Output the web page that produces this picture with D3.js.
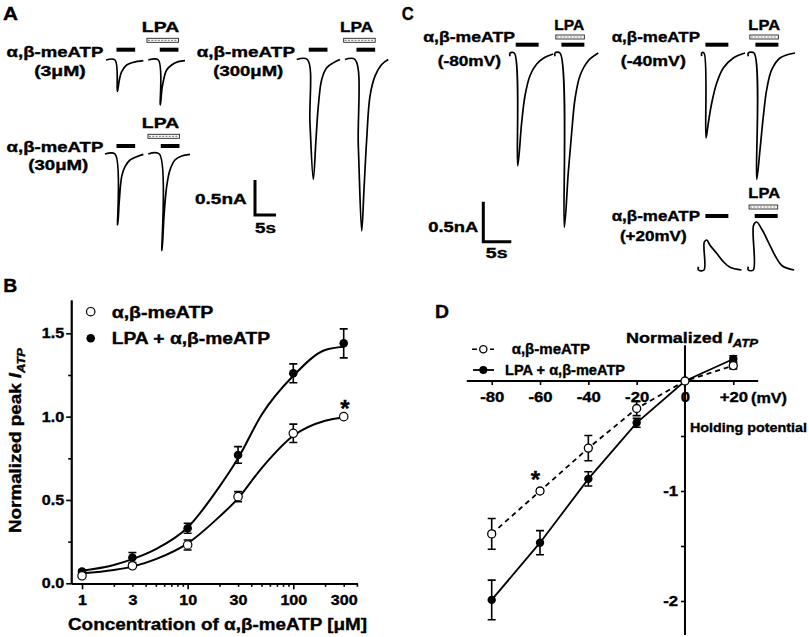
<!DOCTYPE html>
<html>
<head>
<meta charset="utf-8">
<script src="https://cdn.jsdelivr.net/npm/d3@7"></script>
<style>
  body { margin: 0; background: #fff; }
  svg text { font-family: "Liberation Sans", Arial, sans-serif; font-weight: bold; fill: #000;
             stroke: #000; stroke-width: 0.35px; }
</style>
</head>
<body>
<svg id="fig" width="809" height="637"></svg>
<script>
// ---------- data ----------
// panel A: current traces, [time from response onset (s), current (nA)]
const a3uMCtrl = [[-2.14,0],[0,0],[0.56,-0.45],[1.03,-0.286],[1.59,-0.167],[2.78,-0.071],[4.37,-0.033],[6.75,-0.01]];
const a3uMLpa = [[-2.38,0],[0,0],[0.48,-0.643],[0.95,-0.38],[1.98,-0.143],[3.17,-0.071],[4.76,-0.024],[6.35,-0.01]];
const a30uMCtrl = [[-2.38,0],[0,0],[0.63,-1.014],[1.03,-0.66],[1.59,-0.324],[2.38,-0.181],[3.57,-0.086],[5.16,-0.038],[6.75,-0.005]];
const a30uMLpa = [[-2.62,0],[0,0],[0.63,-1.38],[1.11,-0.895],[1.75,-0.467],[2.54,-0.229],[3.73,-0.086],[5.32,-0.029],[7.3,-0.005]];
const a300uMCtrl = [[-2.52,0],[0,0],[0.63,-0.905],[1.43,-1.714],[2.07,-1.14],[2.62,-0.667],[3.43,-0.286],[4.62,-0.119],[6.19,-0.048],[7.78,0]];
const a300uMLpa = [[-2.38,0],[0,0],[0.79,-1.24],[1.6,-2.45],[2.14,-1.857],[2.78,-1.143],[3.57,-0.524],[4.76,-0.238],[6.35,-0.071],[7.93,0]];
// panel C: traces at three holding potentials
const c80Ctrl = [[-0.77,-0.04],[-0.77,0],[0,0],[0.61,-1.41],[1.32,-0.866],[1.91,-0.534],[2.8,-0.284],[4.0,-0.138],[5.48,-0.054],[6.96,-0.012]];
const c80Lpa = [[-0.89,-0.04],[-0.89,0],[0,0],[0.77,-2.18],[1.48,-1.49],[2.09,-0.99],[2.68,-0.575],[3.57,-0.284],[5.05,-0.096],[6.84,0]];
const c40Ctrl = [[-0.41,-0.04],[-0.41,0],[0,0],[0.36,-1.06],[0.77,-0.875],[1.38,-0.625],[2.27,-0.375],[3.45,-0.188],[5.23,-0.062],[7.32,0]];
const c40Lpa = [[-1.02,-0.04],[-1.02,0],[0,0],[0.48,-1.58],[1.07,-1.21],[1.67,-0.79],[2.26,-0.46],[3.15,-0.21],[4.64,-0.062],[7.32,0]];
const c20Ctrl = [[-1.0,0.04],[-1.0,0],[0,0],[0.05,0.35],[0.48,0.375],[1.07,0.31],[2.26,0.21],[3.45,0.104],[4.64,0.034],[6.7,0]];
const c20Lpa = [[-0.9,0.04],[-0.9,0],[0,0],[0.05,0.56],[0.6,0.60],[1.6,0.5],[2.8,0.333],[4.0,0.166],[5.2,0.05],[7.3,0]];
// drug application bars, seconds from onset
const agonistBarA = [0.35, 4.8], lpaBarA = [-2.7, 4.8];
const agonistBarC = [0.25, 4.35], lpaBarC = [-0.75, 4.35];

// panel B: concentration-response
const concB = [1, 3, 10, 30, 100, 300];
const ctrlB = [0.045, 0.105, 0.23, 0.52, 0.90, 1.00];
const ctrlBErr = [0.01, 0.01, 0.03, 0.03, 0.055, 0];
const lpaB = [0.07, 0.155, 0.33, 0.77, 1.26, 1.44];
const lpaBErr = [0.01, 0.03, 0.03, 0.05, 0.057, 0.087];
const fitConcB = [1, 2, 3, 5, 10, 20, 30, 50, 100, 200, 300];
const ctrlFitB = [0.06, 0.08, 0.10, 0.145, 0.24, 0.40, 0.51, 0.69, 0.885, 0.975, 0.995];
const lpaFitB = [0.075, 0.11, 0.145, 0.205, 0.335, 0.58, 0.75, 1.01, 1.245, 1.40, 1.42];
const yTicksB = [0, 0.5, 1.0, 1.5];
const yMinorB = [0.25, 0.75, 1.25];
const xLabelsB = [1, 3, 10, 30, 100, 300];
const xMajorB = [1, 10, 100];
const xMinorB = [2,3,4,5,6,7,8,9,20,30,40,50,60,70,80,90,200,300,400];

// panel D: current-voltage relation
const vmD = [-80, -60, -40, -20, 0, 20];
const ctrlD = [-1.39, -1.0, -0.61, -0.25, 0, 0.14];
const ctrlDErr = [0.14, 0.02, 0.115, 0.065, 0, 0.03];
const lpaD = [-1.99, -1.47, -0.89, -0.38, 0, 0.20];
const lpaDErr = [0.18, 0.11, 0.065, 0.04, 0, 0.03];
const xTicksD = [-80, -60, -40, -20, 0, 20];
const yTicksD = [-0.5, -1, -1.5, -2];

const svg = d3.select("#fig");

// text helper; w forces the drawn width of the label
function label(g, str, x, y, o) {
  o = o || {};
  const t = g.append("text").attr("x", x).attr("y", y)
    .attr("text-anchor", o.anchor || "start")
    .attr("font-size", o.size || 14)
    .text(str);
  if (o.w) t.attr("textLength", o.w).attr("lengthAdjust", "spacingAndGlyphs");
  return t;
}
function stretch(sel, k) {
  sel.each(function() {
    const w = this.getComputedTextLength();
    d3.select(this).attr("textLength", w * k).attr("lengthAdjust", "spacingAndGlyphs");
  });
}

// ---------- panels A and C: traces ----------
const tA = d3.scaleLinear().domain([0, 5]).range([0, 21]);
const iA = d3.scaleLinear().domain([0, 0.5]).range([0, -35]);
const tC = d3.scaleLinear().domain([0, 5]).range([0, 28]);
const iC = d3.scaleLinear().domain([0, 0.5]).range([0, -40]);

const traces = [
  {data: a3uMCtrl,   x: 115,   y: 60,   ts: tA, is: iA, barY: 49.7},
  {data: a3uMLpa,    x: 158.3, y: 60,   ts: tA, is: iA, barY: 49.7, lpaY: 40.3},
  {data: a30uMCtrl,  x: 115,   y: 154,  ts: tA, is: iA, barY: 146},
  {data: a30uMLpa,   x: 159.3, y: 154,  ts: tA, is: iA, barY: 146, lpaY: 136.3},
  {data: a300uMCtrl, x: 307.3, y: 59.5, ts: tA, is: iA, barY: 49.7},
  {data: a300uMLpa,  x: 355,   y: 59.5, ts: tA, is: iA, barY: 49.7, lpaY: 40.3},
  {data: c80Ctrl,    x: 514.3, y: 53,   ts: tC, is: iC, barY: 44.7},
  {data: c80Lpa,     x: 560,   y: 53,   ts: tC, is: iC, barY: 44.7, lpaY: 37},
  {data: c40Ctrl,    x: 704,   y: 53,   ts: tC, is: iC, barY: 44.7},
  {data: c40Lpa,     x: 754,   y: 53,   ts: tC, is: iC, barY: 44.7, lpaY: 37},
  {data: c20Ctrl,    x: 704,   y: 270,  ts: tC, is: iC, barY: 216},
  {data: c20Lpa,     x: 753.3, y: 270,  ts: tC, is: iC, barY: 216, lpaY: 207}
];

traces.forEach(tr => {
  const g = svg.append("g").attr("transform", "translate(" + tr.x + "," + tr.y + ")");
  const line = d3.line()
    .x(d => tr.ts(d[0]))
    .y(d => tr.is(d[1]))
    .curve(d3.curveCatmullRom.alpha(0.5));
  g.append("path").attr("d", line(tr.data))
    .attr("fill", "none").attr("stroke", "#000").attr("stroke-width", 1.7);
  const ab = tr.ts === tA ? agonistBarA : agonistBarC;
  g.append("rect")
    .attr("x", tr.ts(ab[0])).attr("width", tr.ts(ab[1]) - tr.ts(ab[0]))
    .attr("y", tr.barY - tr.y - 2).attr("height", 4).attr("fill", "#000");
  if (tr.lpaY) {
    const lb = tr.ts === tA ? lpaBarA : lpaBarC;
    const x0 = tr.ts(lb[0]), x1 = tr.ts(lb[1]);
    g.append("rect").attr("x", x0).attr("width", x1 - x0)
      .attr("y", tr.lpaY - tr.y - 2).attr("height", 4)
      .attr("fill", "#fff").attr("stroke", "#222").attr("stroke-width", 0.9);
    g.append("line").attr("x1", x0 + 1).attr("x2", x1 - 1)
      .attr("y1", tr.lpaY - tr.y).attr("y2", tr.lpaY - tr.y)
      .attr("stroke", "#888").attr("stroke-width", 1.2).attr("stroke-dasharray", "2,1.3");
  }
});

// scale bars
function scaleBar(x, y, ts, is) {
  const g = svg.append("g").attr("transform", "translate(" + x + "," + y + ")");
  g.append("path")
    .attr("d", "M0," + is(0.5) + "V0H" + ts(5))
    .attr("fill", "none").attr("stroke", "#000").attr("stroke-width", 3);
}
scaleBar(255, 215, tA, iA);
scaleBar(483.3, 241.7, tC, iC);

// panel A / C labels
label(svg, "A", 3, 20, {size: 19, w: 15});
label(svg, "α,β-meATP", 103.3, 56.7, {anchor: "end", w: 96.7});
label(svg, "(3μM)", 60, 76, {anchor: "middle", w: 51.7});
label(svg, "LPA", 160.5, 31.7, {anchor: "middle", w: 37.3});
label(svg, "α,β-meATP", 103.3, 151.7, {anchor: "end", w: 96.7});
label(svg, "(30μM)", 58.3, 170, {anchor: "middle", w: 60});
label(svg, "LPA", 160.5, 128.3, {anchor: "middle", w: 37.3});
label(svg, "α,β-meATP", 295, 56.7, {anchor: "end", w: 98.3});
label(svg, "(300μM)", 248.3, 76, {anchor: "middle", w: 70});
label(svg, "LPA", 356.7, 31.7, {anchor: "middle", w: 33.3});
label(svg, "0.5nA", 246.7, 204, {anchor: "end", w: 51.7});
label(svg, "5s", 265.5, 233.3, {anchor: "middle", w: 21});

label(svg, "C", 401.7, 20, {size: 19, w: 12});
label(svg, "α,β-meATP", 515, 41.7, {anchor: "end", w: 91.7});
label(svg, "(-80mV)", 469.3, 66, {anchor: "middle", w: 63.3});
label(svg, "LPA", 569.3, 30, {anchor: "middle", w: 30});
label(svg, "α,β-meATP", 700, 41.7, {anchor: "end", w: 88.3});
label(svg, "(-40mV)", 653.3, 66, {anchor: "middle", w: 65});
label(svg, "LPA", 764.2, 30, {anchor: "middle", w: 31.7});
label(svg, "α,β-meATP", 700, 220.7, {anchor: "end", w: 88.3});
label(svg, "(+20mV)", 653.3, 240.7, {anchor: "middle", w: 66.7});
label(svg, "LPA", 764.2, 198.3, {anchor: "middle", w: 31.7});
label(svg, "0.5nA", 478.3, 231.7, {anchor: "end", w: 50});
label(svg, "5s", 496.7, 258.3, {anchor: "middle", w: 21.7});

// ---------- panel B ----------
const xB = d3.scaleLog().domain([0.79, 400]).range([71.2, 356.9]);
const yB = d3.scaleLinear().domain([0, 1.7]).range([583.3, 300]);
const gB = svg.append("g");

gB.append("g").attr("transform", "translate(71.2,0)")
  .call(d3.axisLeft(yB).tickValues(yTicksB).tickFormat(d3.format(".1f"))
    .tickSize(5).tickSizeOuter(0).tickPadding(2));
gB.append("g").attr("transform", "translate(71.2,0)")
  .call(d3.axisLeft(yB).tickValues(yMinorB).tickFormat("").tickSize(3).tickSizeOuter(0));
gB.append("g").attr("transform", "translate(0,583.3)")
  .call(d3.axisBottom(xB).tickValues(xLabelsB).tickFormat(d3.format("d"))
    .tickSize(0).tickSizeOuter(0).tickPadding(11.5));
gB.append("g").attr("transform", "translate(0,583.3)")
  .call(d3.axisBottom(xB).tickValues(xMajorB).tickFormat("").tickSize(6).tickSizeOuter(0));
gB.append("g").attr("transform", "translate(0,583.3)")
  .call(d3.axisBottom(xB).tickValues(xMinorB).tickFormat("").tickSize(3.5).tickSizeOuter(0));
gB.selectAll(".domain").attr("stroke-width", 1.8);
gB.selectAll(".tick line").attr("stroke-width", 1.6);
gB.selectAll(".tick text").attr("font-size", 14).attr("font-family", null);
stretch(gB.selectAll(".tick text"), 1.15);

const lineB = d3.line().x(d => xB(d[0])).y(d => yB(d[1])).curve(d3.curveMonotoneX);
gB.append("path").attr("d", lineB(d3.zip(fitConcB, ctrlFitB)))
  .attr("fill", "none").attr("stroke", "#000").attr("stroke-width", 2);
gB.append("path").attr("d", lineB(d3.zip(fitConcB, lpaFitB)))
  .attr("fill", "none").attr("stroke", "#000").attr("stroke-width", 2);

function errBars(g, xs, ys, es, sx, sy) {
  xs.forEach((x, i) => {
    if (!es[i]) return;
    const cx = sx(x), y0 = sy(ys[i] - es[i]), y1 = sy(ys[i] + es[i]);
    g.append("path")
      .attr("d", "M" + (cx - 4) + "," + y0 + "H" + (cx + 4) + "M" + cx + "," + y0 + "V" + y1 +
                 "M" + (cx - 4) + "," + y1 + "H" + (cx + 4))
      .attr("fill", "none").attr("stroke", "#000").attr("stroke-width", 1.6);
  });
}
errBars(gB, concB, lpaB, lpaBErr, xB, yB);
errBars(gB, concB, ctrlB, ctrlBErr, xB, yB);
gB.selectAll(".lpaDot").data(concB).enter().append("circle")
  .attr("cx", d => xB(d)).attr("cy", (d, i) => yB(lpaB[i])).attr("r", 4.3).attr("fill", "#000");
gB.selectAll(".ctrlDot").data(concB).enter().append("circle")
  .attr("cx", d => xB(d)).attr("cy", (d, i) => yB(ctrlB[i])).attr("r", 4.2)
  .attr("fill", "#fff").attr("stroke", "#000").attr("stroke-width", 1.2);

// legend B
gB.append("circle").attr("cx", 90.7).attr("cy", 311.7).attr("r", 4.2)
  .attr("fill", "#fff").attr("stroke", "#000").attr("stroke-width", 1.2);
gB.append("circle").attr("cx", 90.7).attr("cy", 338.3).attr("r", 4.3).attr("fill", "#000");
label(gB, "α,β-meATP", 111.7, 317.5, {size: 16, w: 101.7});
label(gB, "LPA + α,β-meATP", 111.7, 343.5, {size: 16, w: 158.3});
label(gB, "*", 345, 417, {anchor: "middle", size: 24});

label(svg, "B", 3.3, 291.7, {size: 19, w: 14});
label(gB, "Concentration of α,β-meATP [μM]", 217.5, 630, {anchor: "middle", size: 16, w: 299});
const yTitle = gB.append("text").attr("transform", "translate(20.5,440.5) rotate(-90)")
  .attr("text-anchor", "middle").attr("font-size", 16)
  .attr("textLength", 185).attr("lengthAdjust", "spacingAndGlyphs");
yTitle.append("tspan").text("Normalized peak ");
yTitle.append("tspan").attr("font-style", "italic").text("I");
yTitle.append("tspan").attr("font-style", "italic").attr("font-size", 11).attr("dy", 4).text("ATP");

// ---------- panel D ----------
const xD = d3.scaleLinear().domain([-80, 20]).range([491.7, 733.3]);
const yD = d3.scaleLinear().domain([0, -2]).range([381, 601]);
const gD = svg.append("g");

gD.append("line").attr("x1", xD(-90.3)).attr("x2", xD(30.3)).attr("y1", yD(0)).attr("y2", yD(0))
  .attr("stroke", "#000").attr("stroke-width", 2);
gD.append("line").attr("x1", xD(0)).attr("x2", xD(0)).attr("y1", yD(0.325)).attr("y2", yD(-2.31))
  .attr("stroke", "#000").attr("stroke-width", 2);
gD.append("g").attr("transform", "translate(0," + yD(0) + ")")
  .call(d3.axisBottom(xD).tickValues(xTicksD).tickFormat(d => d > 0 ? "+" + d : d)
    .tickSize(4).tickSizeOuter(0).tickPadding(7));
gD.append("g").attr("transform", "translate(" + xD(0) + ",0)")
  .call(d3.axisLeft(yD).tickValues(yTicksD).tickFormat(d => Number.isInteger(d) ? d : "")
    .tickSize(4).tickSizeOuter(0).tickPadding(3));
gD.selectAll(".domain").remove();
gD.selectAll(".tick line").attr("stroke-width", 1.6);
gD.selectAll(".tick text").attr("font-size", 14.5).attr("font-family", null);
stretch(gD.selectAll(".tick text"), 1.15);

const lineD = d3.line().x(d => xD(d[0])).y(d => yD(d[1]));
gD.append("path").attr("d", lineD(d3.zip(vmD, ctrlD)))
  .attr("fill", "none").attr("stroke", "#000").attr("stroke-width", 1.8).attr("stroke-dasharray", "5,4");
gD.append("path").attr("d", lineD(d3.zip(vmD, lpaD)))
  .attr("fill", "none").attr("stroke", "#000").attr("stroke-width", 1.8);
errBars(gD, vmD, ctrlD, ctrlDErr, xD, yD);
errBars(gD, vmD, lpaD, lpaDErr, xD, yD);
gD.selectAll(".lpaDot").data(vmD).enter().append("circle")
  .attr("cx", d => xD(d)).attr("cy", (d, i) => yD(lpaD[i])).attr("r", 4.2).attr("fill", "#000");
gD.selectAll(".ctrlDot").data(vmD).enter().append("circle")
  .attr("cx", d => xD(d)).attr("cy", (d, i) => yD(ctrlD[i])).attr("r", 4)
  .attr("fill", "#fff").attr("stroke", "#000").attr("stroke-width", 1.3);
label(gD, "*", 535.5, 488, {anchor: "middle", size: 24});

// legend D
gD.append("line").attr("x1", 472).attr("x2", 494).attr("y1", 349.3).attr("y2", 349.3)
  .attr("stroke", "#000").attr("stroke-width", 1.6).attr("stroke-dasharray", "5,4");
gD.append("circle").attr("cx", 483.3).attr("cy", 349.3).attr("r", 3.6)
  .attr("fill", "#fff").attr("stroke", "#000").attr("stroke-width", 1.3);
gD.append("line").attr("x1", 473).attr("x2", 494).attr("y1", 370).attr("y2", 370)
  .attr("stroke", "#000").attr("stroke-width", 1.8);
gD.append("circle").attr("cx", 483.3).attr("cy", 370).attr("r", 4).attr("fill", "#000");
label(gD, "α,β-meATP", 511.7, 353.8, {size: 14, w: 78.3});
label(gD, "LPA + α,β-meATP", 505, 375, {size: 14, w: 120});

label(svg, "D", 435, 318.3, {size: 19, w: 14});
const dTitle = gD.append("text").attr("x", 626).attr("y", 343.3).attr("font-size", 15)
  .attr("textLength", 132).attr("lengthAdjust", "spacingAndGlyphs");
dTitle.append("tspan").text("Normalized ");
dTitle.append("tspan").attr("font-style", "italic").text("I");
dTitle.append("tspan").attr("font-style", "italic").attr("font-size", 11).attr("dy", 4).text("ATP");
label(gD, "(mV)", 751, 403.3, {size: 14.5, w: 36});
label(gD, "Holding potential", 690, 431.7, {size: 13.5, w: 117});
</script>
</body>
</html>
